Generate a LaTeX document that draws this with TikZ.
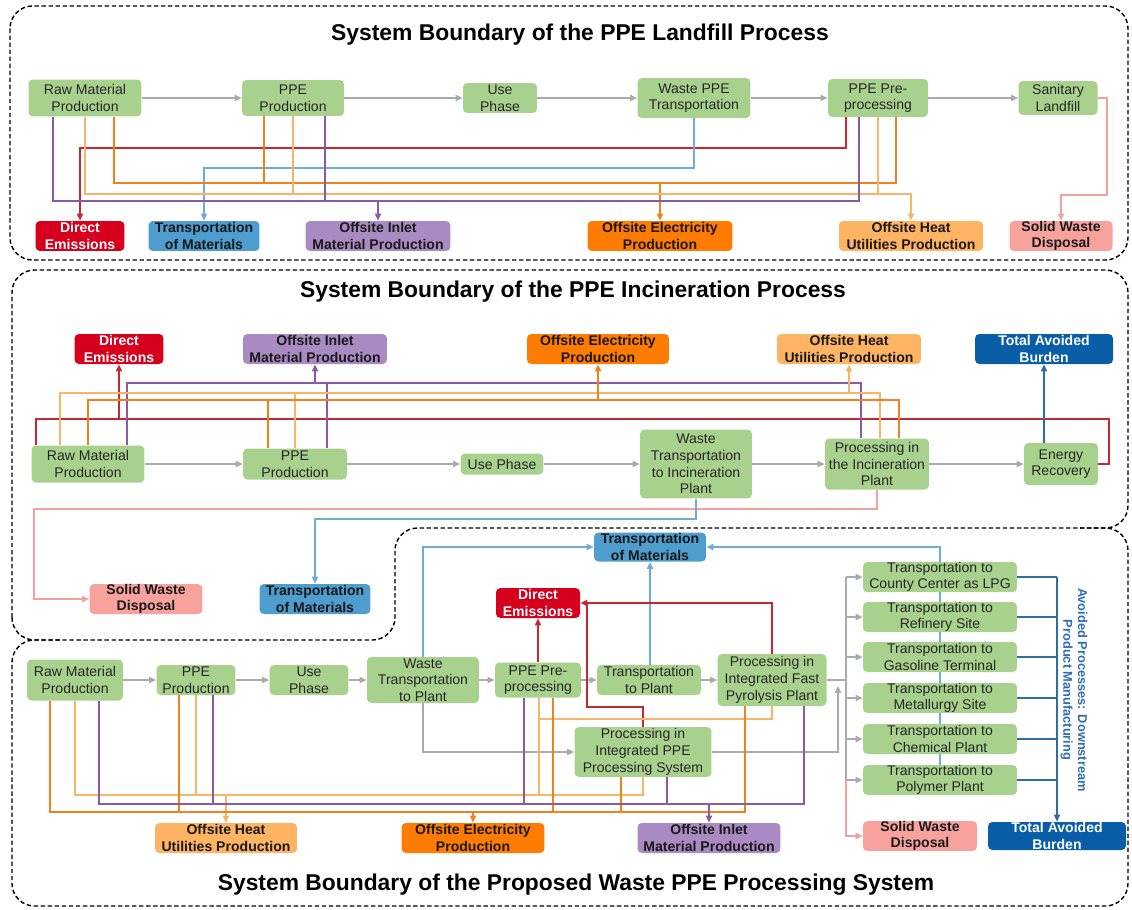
\documentclass[tikz,border=0pt]{standalone}
\usepackage{fontspec}
\setmainfont{Liberation Sans}
\usepackage{tikz}
\usetikzlibrary{arrows.meta,backgrounds}
\definecolor{procgreen}{RGB}{169,209,142}
\definecolor{emisred}{RGB}{215,0,28}
\definecolor{transblue}{RGB}{79,157,207}
\definecolor{inletpurple}{RGB}{170,138,194}
\definecolor{elecorange}{RGB}{255,124,0}
\definecolor{heatorange}{RGB}{255,180,100}
\definecolor{wastepink}{RGB}{248,162,158}
\definecolor{burdenblue}{RGB}{10,94,168}
\definecolor{flowgray}{RGB}{170,170,170}
\definecolor{emisdark}{RGB}{196,40,50}
\definecolor{translight}{RGB}{110,172,214}
\definecolor{inletdark}{RGB}{140,90,165}
\definecolor{elecdark}{RGB}{240,130,30}
\definecolor{heatlight}{RGB}{248,180,105}
\definecolor{wastelight}{RGB}{244,160,156}
\definecolor{burdendark}{RGB}{46,110,165}
\definecolor{avoidblue}{RGB}{47,109,181}
\tikzset{
procnodev1/.style={rectangle, draw=none, fill=procgreen, rounded corners=2.5pt, inner sep=0pt, align=center, text=black!85, font=\fontsize{8}{9.5}\selectfont},
impactnodev1/.style={rectangle, draw=none, rounded corners=2.5pt, inner sep=0pt, align=center, text=black!90, minimum height= 0.6cm, font=\fontsize{8}{9.5}\selectfont\bfseries},
emisnodev1/.style={impactnodev1, fill=emisred, text=white},
transnodev1/.style={impactnodev1, fill=transblue},
inletnodev1/.style={impactnodev1, fill=inletpurple},
elecnodev1/.style={impactnodev1, fill=elecorange},
heatnodev1/.style={impactnodev1, fill=heatorange},
wastenodev1/.style={impactnodev1, fill=wastepink},
burdennodev1/.style={impactnodev1, fill=burdenblue, text=white},
titlenodev1/.style={font=\fontsize{13}{15}\selectfont\bfseries, inner sep=0pt},
flowline/.style={draw=flowgray, line width=0.8pt},
emisline/.style={draw=emisdark, line width=0.8pt},
transline/.style={draw=translight, line width=0.8pt},
inletline/.style={draw=inletdark, line width=0.8pt},
elecline/.style={draw=elecdark, line width=0.8pt},
heatline/.style={draw=heatlight, line width=0.8pt},
wasteline/.style={draw=wastelight, line width=0.8pt},
burdenline/.style={draw=burdendark, line width=0.8pt},
endarrow/.style={-{Triangle[length=4pt,width=3.5pt]}},
boundaryline/.style={draw=black, line width=0.8pt, dash pattern=on 2.5pt off 1.5pt, rounded corners=0.45cm},
}
\begin{document}
\begin{tikzpicture}[x=0.02cm,y=-0.02cm]
  \useasboundingbox (0,0) rectangle (1132,909);

  \draw[boundaryline] (10,6) rectangle (1128,260);
  \draw[boundaryline] (12,640) -- (12,270) -- (1128,270) -- (1128,528) -- (395,528) -- (395,640) -- cycle;
  \draw[boundaryline] (60,640) -- (12,640) -- (12,906) -- (1128,906) -- (1128,528) -- (1080,528);

  \node[titlenodev1] at (580,35) (titleA) {System Boundary of the PPE Landfill Process};
  \node[titlenodev1] at (573,292) (titleB) {System Boundary of the PPE Incineration Process};
  \node[titlenodev1] at (576,885) (titleC) {System Boundary of the Proposed Waste PPE Processing System};

  % landfill
  \node[procnodev1, minimum width= 2.26cm, minimum height= 0.74cm] at (85,98) (rawA) {Raw Material\\Production};
  \node[procnodev1, minimum width= 2.04cm, minimum height= 0.72cm] at (293,98) (ppeA) {PPE\\Production};
  \node[procnodev1, minimum width= 1.48cm, minimum height= 0.6cm] at (500,98) (useA) {Use\\Phase};
  \node[procnodev1, minimum width= 2.26cm, minimum height= 0.8cm] at (694,98) (wtA) {Waste PPE\\Transportation};
  \node[procnodev1, minimum width= 2cm, minimum height= 0.76cm] at (878,98) (preA) {PPE Pre-\\processing};
  \node[procnodev1, minimum width= 1.58cm, minimum height= 0.68cm] at (1058,98) (landA) {Sanitary\\Landfill};
  \node[emisnodev1, minimum width= 1.78cm] at (80,236) (deA) {Direct\\Emissions};
  \node[transnodev1, minimum width= 2.22cm] at (204,236) (tmA) {Transportation\\of Materials};
  \node[inletnodev1, minimum width= 2.9cm] at (378,236) (inA) {Offsite Inlet\\Material Production};
  \node[elecnodev1, minimum width= 2.9cm] at (660,236) (elA) {Offsite Electricity\\Production};
  \node[heatnodev1, minimum width= 2.88cm] at (911,236) (htA) {Offsite Heat\\Utilities Production};
  \node[wastenodev1, minimum width= 2.06cm] at (1061,236) (swA) {Solid Waste\\Disposal};

  \draw[flowline,endarrow] (rawA) to (ppeA);
  \draw[flowline,endarrow] (ppeA) to (useA);
  \draw[flowline,endarrow] (useA) to (wtA);
  \draw[flowline,endarrow] (wtA) to (preA);
  \draw[flowline,endarrow] (preA) to (landA);
  \draw[emisline,endarrow] (846,0 |- preA.south) |- (deA.north |- 0,148) -- (deA.north);
  \draw[transline,endarrow] (wtA.south) |- (tmA.north |- 0,168) -- (tmA.north);
  \draw[elecline] (114,0 |- rawA.south) |- (896,183) -- (896,0 |- preA.south);
  \draw[elecline] (264,0 |- ppeA.south) -- (264,183);
  \draw[elecline,endarrow] (elA.north |- 0,183) -- (elA.north);
  \draw[heatline,endarrow] (rawA.south) |- (htA.north |- 0,194) -- (htA.north);
  \draw[heatline] (ppeA.south) -- (ppeA.south |- 0,194);
  \draw[heatline] (preA.south) -- (preA.south |- 0,194);
  \draw[inletline] (53,0 |- rawA.south) |- (859,201) -- (859,0 |- preA.south);
  \draw[inletline] (325,0 |- ppeA.south) -- (325,201);
  \draw[inletline,endarrow] (inA.north |- 0,201) -- (inA.north);
  \draw[wasteline,endarrow] (landA.east) -| (1107,195) -| (swA.north);

  % incineration
  \node[procnodev1, minimum width= 2.26cm, minimum height= 0.74cm] at (88,464) (rawB) {Raw Material\\Production};
  \node[procnodev1, minimum width= 2.08cm, minimum height= 0.62cm] at (295,464) (ppeB) {PPE\\Production};
  \node[procnodev1, minimum width= 1.66cm, minimum height= 0.42cm] at (502,464) (useB) {Use Phase};
  \node[procnodev1, minimum width= 2.24cm, minimum height= 1.38cm] at (696,464) (wtB) {Waste\\Transportation\\to Incineration\\Plant};
  \node[procnodev1, minimum width= 2.08cm, minimum height= 1.02cm] at (877,464) (procB) {Processing in\\the Incineration\\Plant};
  \node[procnodev1, minimum width= 1.48cm, minimum height= 0.84cm] at (1061,464) (engB) {Energy\\Recovery};
  \node[emisnodev1, minimum width= 1.78cm] at (119,349) (deB) {Direct\\Emissions};
  \node[inletnodev1, minimum width= 2.88cm] at (315,349) (inB) {Offsite Inlet\\Material Production};
  \node[elecnodev1, minimum width= 2.84cm] at (598,349) (elB) {Offsite Electricity\\Production};
  \node[heatnodev1, minimum width= 2.88cm] at (849,349) (htB) {Offsite Heat\\Utilities Production};
  \node[burdennodev1, minimum width= 2.76cm] at (1044,349) (tabB) {Total Avoided\\Burden};
  \node[wastenodev1, minimum width= 2.26cm] at (146,599) (swB) {Solid Waste\\Disposal};
  \node[transnodev1, minimum width= 2.22cm] at (315,599) (tmB) {Transportation\\of Materials};

  \draw[flowline,endarrow] (rawB) to (ppeB);
  \draw[flowline,endarrow] (ppeB) to (useB);
  \draw[flowline,endarrow] (useB) to (wtB);
  \draw[flowline,endarrow] (wtB) to (procB);
  \draw[flowline,endarrow] (procB) to (engB);
  \draw[emisline] (36,0 |- rawB.north) |- (1109,419) |- (engB.east);
  \draw[emisline,endarrow] (deB.south |- 0,419) -- (deB.south);
  \draw[inletline] (127,0 |- rawB.north) |- (861,383) -- (861,0 |- procB.north);
  \draw[inletline] (327,0 |- ppeB.north) -- (327,383);
  \draw[inletline,endarrow] (inB.south |- 0,383) -- (inB.south);
  \draw[heatline] (60,0 |- rawB.north) |- (880,393) -- (880,0 |- procB.north);
  \draw[heatline] (ppeB.north) -- (ppeB.north |- 0,393);
  \draw[heatline,endarrow] (htB.south |- 0,393) -- (htB.south);
  \draw[elecline] (rawB.north) |- (899,400) -- (899,0 |- procB.north);
  \draw[elecline] (268,0 |- ppeB.north) -- (268,400);
  \draw[elecline,endarrow] (elB.south |- 0,400) -- (elB.south);
  \draw[wasteline,endarrow] (procB.south) |- (34,509) |- (swB.west);
  \draw[transline,endarrow] (wtB.south) |- (tmB.north |- 0,519) -- (tmB.north);
  \draw[burdenline,endarrow] (tabB.south |- engB.north) -- (tabB.south);

  % proposed system
  \node[procnodev1, minimum width= 1.92cm, minimum height= 0.82cm] at (75,680) (rawC) {Raw Material\\Production};
  \node[procnodev1, minimum width= 1.58cm, minimum height= 0.6cm] at (196,680) (ppeC) {PPE\\Production};
  \node[procnodev1, minimum width= 1.58cm, minimum height= 0.6cm] at (309,680) (useC) {Use\\Phase};
  \node[procnodev1, minimum width= 2.24cm, minimum height= 0.92cm] at (423,680) (wtC) {Waste\\Transportation\\to Plant};
  \node[procnodev1, minimum width= 1.72cm, minimum height= 0.7cm] at (538,680) (preC) {PPE Pre-\\processing};
  \node[procnodev1, minimum width= 2.08cm, minimum height= 0.6cm] at (649,680) (tpC) {Transportation\\to Plant};
  \node[procnodev1, minimum width= 2.18cm, minimum height= 1.04cm] at (772,680) (fpC) {Processing in\\Integrated Fast\\Pyrolysis Plant};
  \node[procnodev1, minimum width= 2.74cm, minimum height= 1cm] at (643,752) (ipC) {Processing in\\Integrated PPE\\Processing System};
  \node[procnodev1, minimum width= 3.08cm, minimum height= 0.6cm] at (940,577) (lpgC) {Transportation to\\County Center as LPG};
  \node[procnodev1, minimum width= 3.08cm, minimum height= 0.6cm] at (940,617) (refC) {Transportation to\\Refinery Site};
  \node[procnodev1, minimum width= 3.08cm, minimum height= 0.6cm] at (940,657) (gasC) {Transportation to\\Gasoline Terminal};
  \node[procnodev1, minimum width= 3.08cm, minimum height= 0.6cm] at (940,698) (metC) {Transportation to\\Metallurgy Site};
  \node[procnodev1, minimum width= 3.08cm, minimum height= 0.6cm] at (940,739) (chmC) {Transportation to\\Chemical Plant};
  \node[procnodev1, minimum width= 3.08cm, minimum height= 0.6cm] at (940,780) (polC) {Transportation to\\Polymer Plant};
  \node[emisnodev1, minimum width= 1.68cm] at (538,603) (deC) {Direct\\Emissions};
  \node[transnodev1, minimum width= 2.24cm, minimum height= 0.58cm] at (650,547) (tmC) {Transportation\\of Materials};
  \node[heatnodev1, minimum width= 2.84cm] at (226,838) (htC) {Offsite Heat\\Utilities Production};
  \node[elecnodev1, minimum width= 2.86cm] at (473,838) (elC) {Offsite Electricity\\Production};
  \node[inletnodev1, minimum width= 2.86cm] at (709,838) (inC) {Offsite Inlet\\Material Production};
  \node[wastenodev1, minimum width= 2.28cm, minimum height= 0.56cm] at (920,836) (swC) {Solid Waste\\Disposal};
  \node[burdennodev1, minimum width= 2.76cm, minimum height= 0.56cm] at (1057,836) (tabC) {Total Avoided\\Burden};
  \node[rotate=-90, align=center, inner sep=0pt, text=avoidblue, font=\fontsize{7.3}{8.3}\selectfont\bfseries] at (1074,690) (avoidtxt) {Avoided Processes: Downstream\\Product Manufacturing};

  \draw[flowline,endarrow] (rawC) to (ppeC);
  \draw[flowline,endarrow] (ppeC) to (useC);
  \draw[flowline,endarrow] (useC) to (wtC);
  \draw[flowline,endarrow] (wtC) to (preC);
  \draw[flowline,endarrow] (preC) to (tpC);
  \draw[flowline,endarrow] (tpC) to (fpC);
  \draw[flowline,endarrow] (wtC.south) |- (ipC.west);
  \draw[flowline,endarrow] (ipC.east) -| (838,686);
  \draw[flowline] (fpC.east) -- (846,0 |- fpC.east);
  \draw[flowline] (846,0 |- lpgC.west) -- (846,0 |- polC.west);
  \draw[flowline,endarrow] (846,0 |- lpgC.west) -- (lpgC.west);
  \draw[flowline,endarrow] (846,0 |- refC.west) -- (refC.west);
  \draw[flowline,endarrow] (846,0 |- gasC.west) -- (gasC.west);
  \draw[flowline,endarrow] (846,0 |- metC.west) -- (metC.west);
  \draw[flowline,endarrow] (846,0 |- chmC.west) -- (chmC.west);
  \draw[flowline,endarrow] (846,0 |- polC.west) -- (polC.west);
  \draw[wasteline,endarrow] (846,0 |- polC.west) |- (swC.west);
  \draw[burdenline] (lpgC.east) -- (tabC.north |- lpgC.east);
  \draw[burdenline] (refC.east) -- (tabC.north |- refC.east);
  \draw[burdenline] (gasC.east) -- (tabC.north |- gasC.east);
  \draw[burdenline] (metC.east) -- (tabC.north |- metC.east);
  \draw[burdenline] (chmC.east) -- (tabC.north |- chmC.east);
  \draw[burdenline] (polC.east) -- (tabC.north |- polC.east);
  \draw[burdenline,endarrow] (tabC.north |- lpgC.east) -- (tabC.north);
  \begin{pgfonlayer}{background}
    \draw[transline,endarrow] (polC.north) |- (tmC.east);
  \end{pgfonlayer}
  \draw[transline,endarrow] (wtC.north) |- (tmC.west);
  \draw[transline,endarrow] (tmC.south |- tpC.north) -- (tmC.south);
  \draw[emisline,endarrow] (preC.north) -- (deC.south);
  \draw[emisline,endarrow] (fpC.north) |- (deC.east);
  \draw[emisline] (ipC.north) |- (587,707) -- (587,0 |- deC.east);
  \draw[heatline] (rawC.south) |- (ipC.south |- 0,795) -- (ipC.south);
  \draw[heatline] (ppeC.south) -- (ppeC.south |- 0,795);
  \draw[heatline] (539,0 |- preC.south) -- (539,795);
  \draw[heatline] (fpC.south) |- (539,719);
  \draw[heatline,endarrow] (htC.north |- 0,795) -- (htC.north);
  \draw[elecline] (50,0 |- rawC.south) |- (745,812) -- (745,0 |- fpC.south);
  \draw[elecline] (179,0 |- ppeC.south) -- (179,812);
  \draw[elecline] (553,0 |- preC.south) -- (553,812);
  \draw[elecline] (621,0 |- ipC.south) -- (621,812);
  \draw[elecline,endarrow] (elC.north |- 0,812) -- (elC.north);
  \draw[inletline] (99,0 |- rawC.south) |- (804,804) -- (804,0 |- fpC.south);
  \draw[inletline] (213,0 |- ppeC.south) -- (213,804);
  \draw[inletline] (524,0 |- preC.south) -- (524,804);
  \draw[inletline] (667,0 |- ipC.south) -- (667,804);
  \draw[inletline,endarrow] (inC.north |- 0,804) -- (inC.north);
\end{tikzpicture}
\end{document}
